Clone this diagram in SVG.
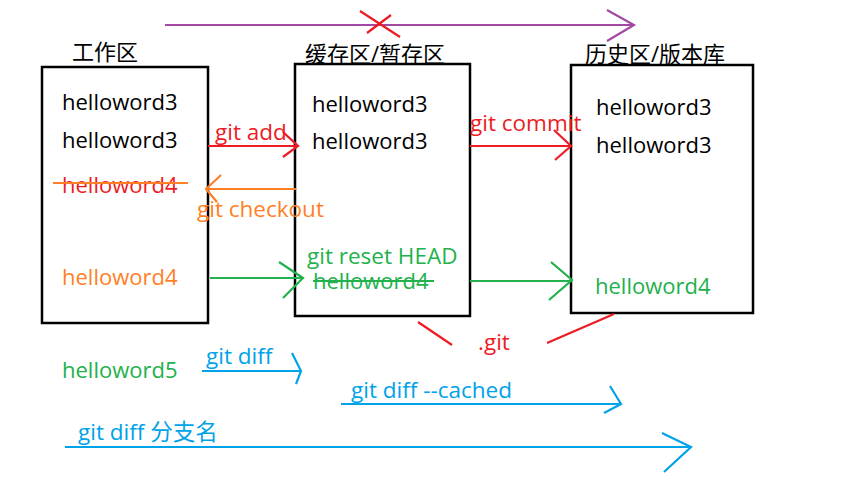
<svg xmlns="http://www.w3.org/2000/svg" width="861" height="486" viewBox="0 0 861 486">
<style>
text{font-family:"Open Sans","Noto Sans CJK SC",sans-serif;font-size:22px}
.t{font-size:22px;fill:#000}
.k{fill:#000}
.red{fill:#ed1c24}.org{fill:#ff7f27}.grn{fill:#22b14c}.blu{fill:#00a2e8}
.box{fill:#fff;stroke:#000;stroke-width:2.5}
.l{fill:none;stroke-width:2.2;stroke-linecap:butt;stroke-linejoin:miter}
.sr{stroke:#ed1c24}.so{stroke:#ff7f27}.sg{stroke:#22b14c}.sb{stroke:#00a2e8}.sp{stroke:#a349a4}
.lab{font-size:22.5px}
</style>
<rect width="861" height="486" fill="#fff"/>
<g id="workdir">
<rect class="box" x="42" y="67" width="166" height="256"/>
<text class="t" x="72" y="60">工作区</text>
<text class="k" x="62" y="110">helloword3</text>
<text class="k" x="62" y="148">helloword3</text>
<text class="red" x="62" y="193">helloword4</text>
<text class="org" x="62" y="285">helloword4</text>
</g>
<g id="stage">
<rect class="box" x="295" y="64" width="175" height="252"/>
<text class="t" x="305" y="62">缓存区/暂存区</text>
<text class="k" x="312" y="112">helloword3</text>
<text class="k" x="312" y="149">helloword3</text>
<text class="grn" x="313" y="289">helloword4</text>
</g>
<g id="history">
<rect class="box" x="571" y="65" width="182" height="248"/>
<text class="t" x="585" y="62">历史区/版本库</text>
<text class="k" x="596" y="115">helloword3</text>
<text class="k" x="596" y="153">helloword3</text>
<text class="grn" x="595" y="294">helloword4</text>
</g>
<g id="connectors">
<path class="l sp" d="M165 25H634M607 10L634 25L607 41"/>
<path class="l sr" d="M360 11L400 37M367 33L391 15"/>
<path class="l so" d="M53 183H188"/>
<path class="l sr" d="M208 146H298M283 132L298 146L283 157"/>
<path class="l so" d="M296 189H206M221 175L206 189L217 202"/>
<path class="l sg" d="M210 278H303M279 262L303 278L283 298"/>
<path class="l sg" d="M313 281H434"/>
<path class="l sr" d="M470 146H571M554 130L571 146L555 160"/>
<path class="l sg" d="M470 281H572M551 262L572 280L549 300"/>
<path class="l sr" d="M418 322L452 345M547 343L614 314"/>
<path class="l sb" d="M202 371H301M292 353L301 371L296 384"/>
<path class="l sb" d="M341 404H621M610 386L621 404L604 413"/>
<path class="l sb" d="M65 447H691M662 433L691 447L664 472"/>
</g>
<g id="labels">
<text class="red lab" x="215" y="140">git add</text>
<text class="org lab" x="197" y="217">git checkout</text>
<text class="grn lab" x="307" y="264">git reset HEAD</text>
<text class="red lab" x="470" y="131">git commit</text>
<text class="red lab" x="478" y="350">.git</text>
<text class="grn" x="62" y="378">helloword5</text>
<text class="blu lab" x="206" y="364">git diff</text>
<text class="blu lab" x="351" y="398">git diff --cached</text>
<text class="blu lab" x="78" y="440">git diff 分支名</text>
</g>
</svg>
